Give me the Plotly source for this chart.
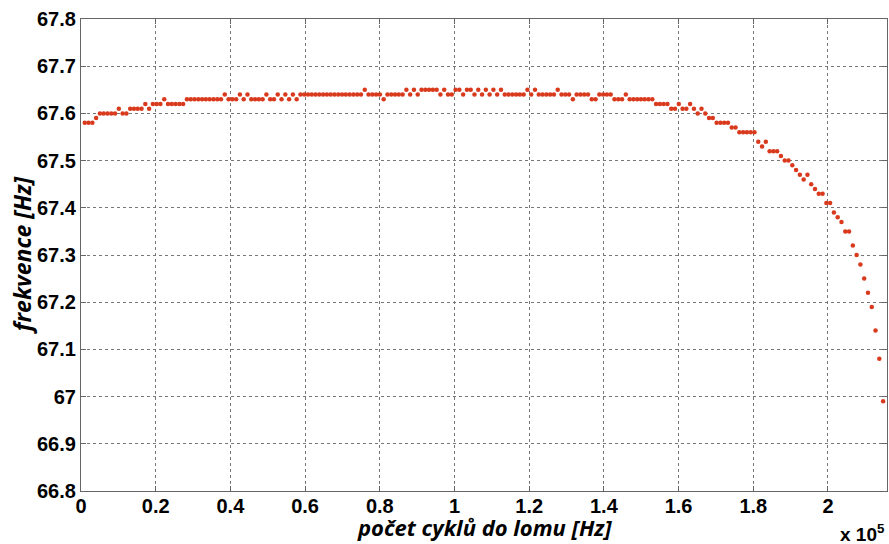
import plotly.graph_objects as go

# --- data ---
step = 1013  # cycles between measurements
frequency = (
    [67.58]*3 + [67.59] + [67.60]*5 + [67.61] + [67.60]*2 + [67.61]*4 + [67.62] + [67.61]
    + [67.62]*3 + [67.63] + [67.62]*5 + [67.63]*10 + [67.64] + [67.63]*3 + [67.64] + [67.63]
    + [67.64] + [67.63]*4 + [67.64] + [67.63]*2 + [67.64] + [67.63] + [67.64] + [67.63]
    + [67.64] + [67.63] + [67.64]*17 + [67.65] + [67.64]*4 + [67.63] + [67.64]*5 + [67.65]
    + [67.64] + [67.65] + [67.64] + [67.65]*5 + [67.64] + [67.65] + [67.64]*2 + [67.65]*2
    + [67.64] + [67.65]*2 + [67.64] + [67.65] + [67.64] + [67.65] + [67.64] + [67.65]
    + [67.64] + [67.65] + [67.64]*6 + [67.65] + [67.64] + [67.65] + [67.64]*5 + [67.65]
    + [67.64]*3 + [67.63] + [67.64]*4 + [67.63]*2 + [67.64]*4 + [67.63]*3 + [67.64]
    + [67.63]*7 + [67.62]*4 + [67.61]*2 + [67.62] + [67.61]*2 + [67.62] + [67.61] + [67.60]
    + [67.61] + [67.60] + [67.59]*2 + [67.58]*4 + [67.57]*2 + [67.56]*5 + [67.54] + [67.53]
    + [67.54] + [67.52]*3 + [67.51] + [67.50]*2 + [67.49] + [67.48] + [67.47] + [67.46]
    + [67.47] + [67.45] + [67.44] + [67.43]*2 + [67.41]*2 + [67.39] + [67.38] + [67.37]
    + [67.35]*2 + [67.32] + [67.30] + [67.28] + [67.25] + [67.22] + [67.19] + [67.14]
    + [67.08] + [66.99]
)
cycles = [step * (i + 1) for i in range(len(frequency))]

x_tickvals = [0, 20000, 40000, 60000, 80000, 100000, 120000, 140000, 160000, 180000, 200000]
x_ticktext = ["0", "0.2", "0.4", "0.6", "0.8", "1", "1.2", "1.4", "1.6", "1.8", "2"]
y_tickvals = [66.8, 66.9, 67.0, 67.1, 67.2, 67.3, 67.4, 67.5, 67.6, 67.7, 67.8]
y_ticktext = ["66.8", "66.9", "67", "67.1", "67.2", "67.3", "67.4", "67.5", "67.6", "67.7", "67.8"]

x_title = "počet cyklů do lomu [Hz]"
y_title = "frekvence [Hz]"

fig = go.Figure()
fig.add_trace(go.Scatter(
    x=cycles, y=frequency, mode="markers",
    marker=dict(color="#d9391c", size=4.5, line=dict(width=0)),
    showlegend=False,
))

tickfont = dict(family="Liberation Sans", size=20, color="black", weight="bold")
axis_common = dict(
    showline=True, linecolor="#666666", linewidth=1.2, mirror="ticks",
    ticks="inside", ticklen=5, tickcolor="#666666",
    showgrid=True, gridcolor="#777777", griddash="dot", gridwidth=1,
    zeroline=False, tickfont=tickfont, automargin=False,
)
title_font = dict(family="Open Sans", size=22, color="black", style="italic", weight="bold")

fig.update_layout(
    width=889, height=544,
    margin=dict(l=81, r=2, t=19, b=53),
    paper_bgcolor="white", plot_bgcolor="white",
    xaxis=dict(range=[0, 215800], tickvals=x_tickvals, ticktext=x_ticktext,
               ticklabelstandoff=-3, **axis_common),
    yaxis=dict(range=[66.8, 67.8], tickvals=y_tickvals, ticktext=y_ticktext, **axis_common),
    annotations=[
        dict(text=x_title, xref="paper", yref="paper", x=0.5, y=-0.077,
             xanchor="center", yanchor="middle", showarrow=False, font=title_font),
        dict(text=y_title, xref="paper", yref="paper", x=-0.073, y=0.5, textangle=-90,
             xanchor="center", yanchor="middle", showarrow=False,
             font=dict(title_font, size=23)),
        dict(text="x 10<sup>5</sup>", xref="paper", yref="paper",
             x=1.0, y=-0.118, xanchor="right", yanchor="bottom", showarrow=False,
             font=dict(family="Liberation Sans", size=19, color="black", weight="bold")),
    ],
)

fig.write_html("out.html", config={"displayModeBar": False},
               post_script="document.body.style.margin='0px';document.body.style.padding='0px';")
